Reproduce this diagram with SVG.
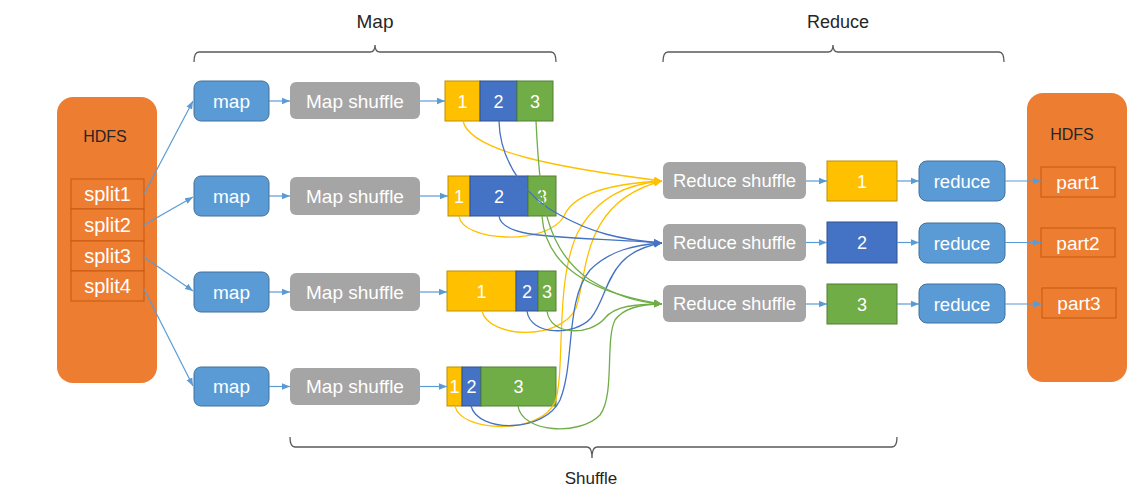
<svg xmlns="http://www.w3.org/2000/svg" width="1138" height="494" viewBox="0 0 1138 494">
<style>
text{font-family:"Liberation Sans",Arial,sans-serif;text-anchor:middle}
.w{fill:#FFFFFF}
.d{fill:#262626}
.hdfs{fill:#ED7D31}
.split{fill:#ED7D31;stroke:#C55A11;stroke-width:1}
.map{fill:#5B9BD5;stroke:#41719C;stroke-width:1}
.gray{fill:#A5A5A5}
.y{fill:#FFC000;stroke:#BF9000;stroke-width:1}
.b{fill:#4472C4;stroke:#2F528F;stroke-width:1}
.g{fill:#70AD47;stroke:#507E32;stroke-width:1}
.con{fill:none;stroke:#5B9BD5;stroke-width:1.2;marker-end:url(#ab)}
.cy{fill:none;stroke:#FFC000;stroke-width:1.3;marker-end:url(#ay)}
.cb{fill:none;stroke:#4472C4;stroke-width:1.3;marker-end:url(#abl)}
.cg{fill:none;stroke:#70AD47;stroke-width:1.3;marker-end:url(#ag)}
.brace{fill:none;stroke:#595959;stroke-width:1.3}
</style>
<defs>
<marker id="ab" markerUnits="userSpaceOnUse" markerWidth="9" markerHeight="8" refX="8" refY="4" orient="auto"><path d="M0,0.8 L8,4 L0,7.2 z" fill="#5B9BD5"/></marker>
<marker id="ay" markerUnits="userSpaceOnUse" markerWidth="9" markerHeight="8" refX="8" refY="4" orient="auto"><path d="M0,0.5 L8,4 L0,7.5 z" fill="#FFC000"/></marker>
<marker id="abl" markerUnits="userSpaceOnUse" markerWidth="9" markerHeight="8" refX="8" refY="4" orient="auto"><path d="M0,0.5 L8,4 L0,7.5 z" fill="#4472C4"/></marker>
<marker id="ag" markerUnits="userSpaceOnUse" markerWidth="9" markerHeight="8" refX="8" refY="4" orient="auto"><path d="M0,0.5 L8,4 L0,7.5 z" fill="#70AD47"/></marker>
</defs>
<rect width="1138" height="494" fill="#FFFFFF"/>

<g id="braces">
<path class="brace" d="M194,62 Q194,52 199,52 L370,52 Q375,52 375,45 Q375,52 380,52 L551,52 Q556,52 556,62"/>
<text class="d" x="375" y="28" font-size="19">Map</text>
<path class="brace" d="M663,62 Q663,52 668,52 L828,52 Q833,52 833,45 Q833,52 838,52 L999,52 Q1004,52 1004,62"/>
<text class="d" x="838" y="28" font-size="18">Reduce</text>
<path class="brace" d="M290,437 Q290,447 295,447 L587,447 Q592,447 592,458 Q592,447 597,447 L892,447 Q897,447 897,437"/>
<text class="d" x="591" y="484" font-size="17">Shuffle</text>
</g>

<g id="hdfs-in">
<rect class="hdfs" x="57" y="97" width="100" height="286" rx="16"/>
<text class="d" x="105" y="142" font-size="16">HDFS</text>
</g>
<g id="split1"><rect class="split" x="71" y="179" width="73" height="30"/><text class="w" x="107.5" y="201" font-size="20">split1</text></g>
<g id="split2"><rect class="split" x="71" y="209" width="73" height="32"/><text class="w" x="107.5" y="232" font-size="20">split2</text></g>
<g id="split3"><rect class="split" x="71" y="241" width="73" height="30"/><text class="w" x="107.5" y="263" font-size="20">split3</text></g>
<g id="split4"><rect class="split" x="71" y="271" width="73" height="30"/><text class="w" x="107.5" y="293" font-size="20">split4</text></g>

<g id="map1"><rect class="map" x="194" y="81" width="75" height="40" rx="7"/><text class="w" x="231.5" y="108" font-size="19">map</text></g>
<g id="map2"><rect class="map" x="194" y="176" width="75" height="40" rx="7"/><text class="w" x="231.5" y="203" font-size="19">map</text></g>
<g id="map3"><rect class="map" x="194" y="272" width="75" height="40" rx="7"/><text class="w" x="231.5" y="299" font-size="19">map</text></g>
<g id="map4"><rect class="map" x="194" y="367" width="75" height="39" rx="7"/><text class="w" x="231.5" y="393" font-size="19">map</text></g>

<g id="mapshuffle1"><rect class="gray" x="290" y="82" width="130" height="37" rx="6"/><text class="w" x="355" y="107.5" font-size="19">Map shuffle</text></g>
<g id="mapshuffle2"><rect class="gray" x="290" y="177" width="130" height="38" rx="6"/><text class="w" x="355" y="203" font-size="19">Map shuffle</text></g>
<g id="mapshuffle3"><rect class="gray" x="290" y="273" width="130" height="38" rx="6"/><text class="w" x="355" y="299" font-size="19">Map shuffle</text></g>
<g id="mapshuffle4"><rect class="gray" x="290" y="368" width="130" height="37" rx="6"/><text class="w" x="355" y="393" font-size="19">Map shuffle</text></g>

<g id="part-row1">
<rect class="y" x="445" y="81" width="35" height="40"/><rect class="b" x="480" y="81" width="37" height="40"/><rect class="g" x="517" y="81" width="36" height="40"/>
<text class="w" x="462.5" y="108" font-size="18">1</text><text class="w" x="498.5" y="108" font-size="18">2</text><text class="w" x="535" y="108" font-size="18">3</text>
</g>
<g id="part-row2">
<rect class="y" x="448" y="176" width="22" height="40"/><rect class="b" x="470" y="176" width="58" height="40"/><rect class="g" x="528" y="176" width="28" height="40"/>
<text class="w" x="459" y="203" font-size="18">1</text><text class="w" x="499" y="203" font-size="18">2</text><text class="w" x="542" y="203" font-size="18">3</text>
</g>
<g id="part-row3">
<rect class="y" x="447" y="271" width="69" height="40"/><rect class="b" x="516" y="271" width="22" height="40"/><rect class="g" x="538" y="271" width="18" height="40"/>
<text class="w" x="481.5" y="298" font-size="18">1</text><text class="w" x="527" y="298" font-size="18">2</text><text class="w" x="547" y="298" font-size="18">3</text>
</g>
<g id="part-row4">
<rect class="y" x="447" y="367" width="15" height="39"/><rect class="b" x="462" y="367" width="19" height="39"/><rect class="g" x="481" y="367" width="75" height="39"/>
<text class="w" x="454.5" y="393" font-size="18">1</text><text class="w" x="471.5" y="393" font-size="18">2</text><text class="w" x="518.5" y="393" font-size="18">3</text>
</g>

<g id="reduceshuffle1"><rect class="gray" x="663" y="162" width="143" height="37" rx="6"/><text class="w" x="734.5" y="187" font-size="18.5">Reduce shuffle</text></g>
<g id="reduceshuffle2"><rect class="gray" x="663" y="224" width="143" height="37" rx="6"/><text class="w" x="734.5" y="249" font-size="18.5">Reduce shuffle</text></g>
<g id="reduceshuffle3"><rect class="gray" x="663" y="285" width="143" height="37" rx="6"/><text class="w" x="734.5" y="310" font-size="18.5">Reduce shuffle</text></g>

<g id="rpart1"><rect class="y" x="827" y="161" width="70" height="40"/><text class="w" x="862" y="187.5" font-size="18">1</text></g>
<g id="rpart2"><rect class="b" x="827" y="222" width="70" height="41"/><text class="w" x="862" y="249" font-size="18">2</text></g>
<g id="rpart3"><rect class="g" x="827" y="284" width="70" height="40"/><text class="w" x="862" y="310.5" font-size="18">3</text></g>

<g id="reduce1"><rect class="map" x="919" y="161" width="86" height="40" rx="8"/><text class="w" x="962" y="187.5" font-size="18.5">reduce</text></g>
<g id="reduce2"><rect class="map" x="919" y="223" width="86" height="40" rx="8"/><text class="w" x="962" y="249.5" font-size="18.5">reduce</text></g>
<g id="reduce3"><rect class="map" x="919" y="284" width="86" height="39" rx="8"/><text class="w" x="962" y="310.5" font-size="18.5">reduce</text></g>

<g id="hdfs-out">
<rect class="hdfs" x="1027" y="93" width="100" height="289" rx="16"/>
<text class="d" x="1072" y="140" font-size="16">HDFS</text>
</g>
<g id="part1"><rect class="split" x="1041" y="167" width="74" height="30"/><text class="w" x="1078" y="189" font-size="19">part1</text></g>
<g id="part2"><rect class="split" x="1041" y="228" width="74" height="29"/><text class="w" x="1078" y="249.5" font-size="19">part2</text></g>
<g id="part3"><rect class="split" x="1042" y="288" width="74" height="30"/><text class="w" x="1079" y="310" font-size="19">part3</text></g>

<g id="connectors">
<path class="con" d="M144,194 L193,101"/>
<path class="con" d="M144,225 L193,197"/>
<path class="con" d="M144,257 L193,291"/>
<path class="con" d="M144,289 L193,386"/>
<path class="con" d="M269,101 L290,101"/>
<path class="con" d="M269,196 L290,196"/>
<path class="con" d="M269,292 L290,292"/>
<path class="con" d="M269,386.5 L290,386.5"/>
<path class="con" d="M420,101 L445,101"/>
<path class="con" d="M420,196 L448,196"/>
<path class="con" d="M420,292 L447,292"/>
<path class="con" d="M420,386.5 L447,386.5"/>
<path class="con" d="M806,181 L827,181"/>
<path class="con" d="M806,242.5 L827,242.5"/>
<path class="con" d="M806,304 L827,304"/>
<path class="con" d="M897,181 L919,181"/>
<path class="con" d="M897,242.5 L919,242.5"/>
<path class="con" d="M897,304 L919,304"/>
<path class="con" d="M1005,181 L1041,181"/>
<path class="con" d="M1005,242.5 L1041,242.5"/>
<path class="con" d="M1005,304 L1042,304"/>

<path class="cy" d="M463,121 C470,152 560,168 662,181"/>
<path class="cy" d="M459,216 C462,242 548,246 564,216 C572,197 600,184 662,181"/>
<path class="cy" d="M482,311 C488,338 560,342 576,308 C588,275 580,202 662,181"/>
<path class="cy" d="M455,406 C460,432 540,436 555,402 C566,370 554,282 578,232 C598,196 628,184 662,181"/>

<path class="cb" d="M499,121 C500,165 530,200 560,215 C590,232 620,240 662,243"/>
<path class="cb" d="M499,216 C502,240 565,236 662,243"/>
<path class="cb" d="M527,311 C530,336 575,336 591,318 C610,295 605,252 662,243"/>
<path class="cb" d="M471,406 C478,433 545,433 560,400 C575,364 565,300 590,270 C610,250 635,245 662,243"/>

<path class="cg" d="M536,121 C540,200 545,250 590,280 C615,295 635,302 662,304"/>
<path class="cg" d="M542,216 C545,262 585,292 662,304"/>
<path class="cg" d="M547,311 C550,336 590,336 605,318 C615,306 635,304 662,304"/>
<path class="cg" d="M518,406 C522,433 580,436 600,415 C615,395 605,340 615,320 C625,306 645,304 662,304"/>
</g>
</svg>
